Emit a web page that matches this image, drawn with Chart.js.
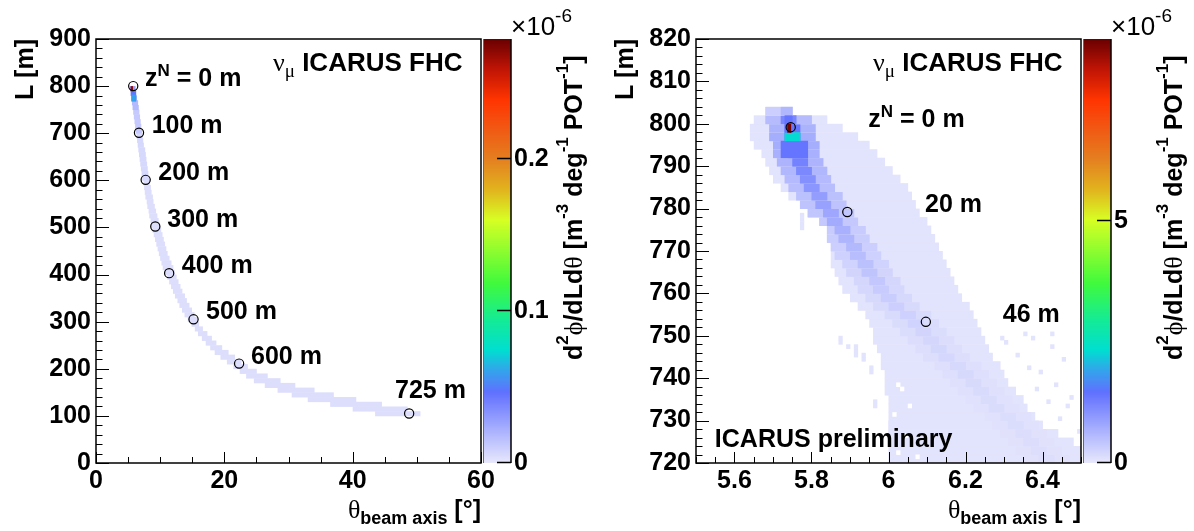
<!DOCTYPE html>
<html lang="en">
<head>
<meta charset="utf-8">
<title>ICARUS FHC - L x theta</title>
<script src="https://cdn.jsdelivr.net/npm/chart.js@4.4.1/dist/chart.umd.min.js"></script>
<style>
    body { margin: 0; background: #ffffff; }
    #pagina { position: relative; width: 1194px; height: 531px; overflow: hidden; background: #ffffff; }
    #pagina canvas { position: absolute; top: 0; }
</style>
</head>
<body>
<div id="pagina">
    <canvas id="mapaGeral" width="500" height="531" style="left:0px"></canvas>
    <canvas id="escalaGeral" width="130" height="531" style="left:470px"></canvas>
    <canvas id="mapaZoom" width="500" height="531" style="left:600px"></canvas>
    <canvas id="escalaZoom" width="124" height="531" style="left:1070px"></canvas>
</div>
<script>
// ---------- painel da esquerda: percurso inteiro ----------
// cada linha do histograma tem 10 m em L (borda de baixo) e a faixa de theta ocupada
const geralLinhaL = [100, 110, 120, 130, 140, 150, 160, 170, 180, 190,
    200, 210, 220, 230, 240, 250, 260, 270, 280, 290,
    300, 310, 320, 330, 340, 350, 360, 370, 380, 390,
    400, 410, 420, 430, 440, 450, 460, 470, 480, 490,
    500, 510, 520, 530, 540, 550, 560, 570, 580, 590,
    600, 610, 620, 630, 640, 650, 660, 670, 680, 690,
    700, 710, 720, 730, 740, 750, 760, 770, 780, 790]
const geralThetaMin = [43.5, 40, 36.5, 33, 30.5, 28.3, 26.3, 24.6, 23.4, 22.4,
    21.4, 20.4, 19.4, 18.5, 17.8, 17.1, 16.5, 15.9, 15.4, 14.9,
    14.3, 13.8, 13.4, 13.0, 12.7, 12.3, 12.0, 11.7, 11.4, 11.1,
    10.7, 10.4, 10.2, 10.0, 9.8, 9.6, 9.4, 9.2, 9.0, 8.8,
    8.6, 8.5, 8.3, 8.2, 8.0, 7.9, 7.7, 7.6, 7.5, 7.4,
    7.2, 7.1, 7.0, 6.9, 6.8, 6.7, 6.6, 6.5, 6.4, 6.3,
    6.2, 6.1, 6.0, 5.9, 5.8, 5.7, 5.6, 5.5, 5.4, 5.3]
const geralThetaMax = [50.5, 48.5, 44.5, 40.5, 37, 34, 31, 28.7, 26.7, 25,
    23.6, 22.6, 21.6, 20.6, 19.6, 18.7, 18.0, 17.3, 16.6, 16.0,
    15.7, 15.3, 14.9, 14.5, 14.1, 13.8, 13.4, 13.1, 12.8, 12.5,
    12.2, 12.0, 11.7, 11.4, 11.1, 10.9, 10.7, 10.5, 10.3, 10.1,
    9.9, 9.7, 9.5, 9.3, 9.1, 8.9, 8.8, 8.6, 8.5, 8.3,
    8.2, 8.1, 8.0, 7.9, 7.8, 7.7, 7.6, 7.4, 7.3, 7.2,
    7.1, 7.0, 6.9, 6.8, 6.7, 6.6, 6.5, 6.3, 6.2, 6.1]
const geralValor = [0.004, 0.004, 0.004, 0.004, 0.004, 0.004, 0.004, 0.004, 0.004, 0.004,
    0.004, 0.004, 0.004, 0.004, 0.004, 0.004, 0.004, 0.004, 0.004, 0.004,
    0.004, 0.004, 0.004, 0.004, 0.004, 0.004, 0.004, 0.004, 0.004, 0.004,
    0.004, 0.004, 0.004, 0.004, 0.004, 0.004, 0.004, 0.004, 0.004, 0.004,
    0.004, 0.004, 0.004, 0.004, 0.004, 0.004, 0.004, 0.004, 0.004, 0.004,
    0.006, 0.006, 0.006, 0.006, 0.006, 0.006, 0.006, 0.006, 0.006, 0.006,
    0.012, 0.012, 0.012, 0.012, 0.012, 0.018, 0.018, 0.03, 0.045, 0.03]
// celulas mais fortes perto de z = 0   [thetaMin, thetaMax, Lmin, Lmax, valor]
const geralPicos = [[5.5, 6.2, 768, 782, 0.06], [5.4, 5.7, 790, 800, 0.27]]
const geralMarcaTheta = [5.8, 6.7, 7.74, 9.24, 11.4, 15.2, 22.3, 48.8]
const geralMarcaL = [800, 701, 601, 502, 403, 305, 211, 105]
const geralRotulos = ['z^N = 0 m', '100 m', '200 m', '300 m', '400 m', '500 m', '600 m', '725 m']
const geralTicksX = [0, 20, 40, 60]
const geralTicksY = [0, 100, 200, 300, 400, 500, 600, 700, 800, 900]
const geralTicksZ = [0, 0.1, 0.2]
const geralZMax = 0.279

// ---------- painel da direita: primeiros metros ----------
// linhas de 2 m em L: faixa ocupada, centro do nucleo e intensidades
const zoomLinhaL = [720, 722, 724, 726, 728, 730, 732, 734, 736, 738,
    740, 742, 744, 746, 748, 750, 752, 754, 756, 758,
    760, 762, 764, 766, 768, 770, 772, 774, 776, 778,
    780, 782, 784, 786, 788, 790, 792, 794, 796, 798, 800, 802]
const zoomEnvMin = [6.00, 6.00, 6.00, 6.00, 6.00, 6.00, 6.00, 6.00, 5.99, 5.99,
    5.99, 5.98, 5.98, 5.97, 5.96, 5.96, 5.95, 5.94, 5.92, 5.90,
    5.88, 5.87, 5.86, 5.85, 5.85, 5.85, 5.84, 5.84, 5.82, 5.79,
    5.77, 5.74, 5.72, 5.70, 5.69, 5.68, 5.67, 5.65, 5.64, 5.64, 5.65, 5.68]
const zoomEnvMax = [6.50, 6.50, 6.48, 6.44, 6.40, 6.38, 6.36, 6.35, 6.33, 6.31,
    6.30, 6.29, 6.27, 6.26, 6.25, 6.24, 6.23, 6.22, 6.21, 6.19,
    6.18, 6.17, 6.16, 6.15, 6.14, 6.13, 6.12, 6.11, 6.10, 6.08,
    6.07, 6.06, 6.05, 6.03, 6.01, 5.99, 5.97, 5.95, 5.92, 5.88, 5.84, 5.75]
const zoomNucleoTheta = [6.41, 6.39, 6.37, 6.35, 6.33, 6.31, 6.28, 6.26, 6.24, 6.22,
    6.20, 6.18, 6.15, 6.13, 6.11, 6.09, 6.07, 6.05, 6.02, 6.00,
    5.98, 5.97, 5.95, 5.94, 5.92, 5.91, 5.89, 5.88, 5.86, 5.85,
    5.83, 5.82, 5.80, 5.79, 5.78, 5.77, 5.76, 5.76, 5.75, 5.75, 5.74, 5.74]
const zoomNucleoValor = [0.12, 0.12, 0.13, 0.13, 0.14, 0.14, 0.15, 0.15, 0.16, 0.17,
    0.18, 0.19, 0.2, 0.21, 0.22, 0.24, 0.26, 0.28, 0.3, 0.33,
    0.36, 0.4, 0.44, 0.48, 0.52, 0.57, 0.62, 0.68, 0.74, 0.8,
    0.86, 0.92, 1.0, 1.08, 1.16, 1.25, 1.35, 1.45, 1.5, 1.4, 1.2, 0.6]
const zoomHaloValor = [0.08, 0.08, 0.08, 0.08, 0.09, 0.09, 0.09, 0.09, 0.1, 0.1,
    0.11, 0.11, 0.12, 0.12, 0.13, 0.14, 0.15, 0.16, 0.17, 0.18,
    0.2, 0.22, 0.24, 0.26, 0.28, 0.3, 0.33, 0.36, 0.39, 0.42,
    0.45, 0.48, 0.52, 0.56, 0.6, 0.64, 0.68, 0.72, 0.72, 0.65, 0.55, 0.3]
const zoomFundo = 0.06
// bins isolados fora da faixa [theta, L] e bins vazios dentro dela
const zoomSoltas = [[5.77, 775], [5.77, 776], [5.77, 777], [5.77, 778],
    [5.87, 748], [5.87, 749], [5.89, 747], [5.91, 745], [5.91, 746], [5.91, 747],
    [5.93, 744], [5.93, 745], [5.95, 741], [5.95, 742], [6.00, 739], [5.96, 733],
    [5.96, 734], [6.00, 727], [6.00, 728], [6.00, 729],
    [6.29, 749], [6.30, 748], [6.33, 745], [6.35, 750], [6.37, 749], [6.36, 742],
    [6.39, 741], [6.42, 747], [6.42, 750], [6.43, 738], [6.45, 744], [6.47, 735],
    [6.46, 733], [6.44, 730], [6.49, 727], [6.38, 737], [6.41, 734]]
const zoomFuros = [[6.02, 738], [6.03, 737], [6.05, 733], [6.01, 731], [6.04, 726], [6.02, 722], [6.07, 721]]
const zoomPicos = [[5.72, 5.79, 792, 796, 1.4], [5.73, 5.77, 796, 798, 2.3],
    [5.73, 5.75, 798, 802, 1.4], [5.737, 5.746, 798, 800, 8.7]]
const zoomMarcaTheta = [5.746, 5.893, 6.097]
const zoomMarcaL = [799.2, 779.2, 753.3]
const zoomRotulos = ['z^N = 0 m', '20 m', '46 m']
const zoomTicksX = [5.6, 5.8, 6, 6.2, 6.4]
const zoomTicksY = [720, 730, 740, 750, 760, 770, 780, 790, 800, 810, 820]
const zoomTicksZ = [0, 5]
const zoomZMax = 8.77

// ---------- estilo ----------
const SANS = '"Liberation Sans", Arial, Helvetica, sans-serif'
const SERIF = '"Liberation Serif", "DejaVu Serif", serif'
const B25 = `bold 25px ${SANS}`
const B26 = `bold 26px ${SANS}`
const B18 = `bold 18px ${SANS}`
const B17 = `bold 17px ${SANS}`
const G26 = `26px ${SERIF}`
const G19 = `19px ${SERIF}`
const NUCLEO = 0.02
const HALO = 0.06

const PALETA = [
    [0.000, 232, 232, 252],
    [0.167, 96, 112, 255],
    [0.219, 50, 165, 235],
    [0.266, 0, 222, 208],
    [0.337, 20, 235, 150],
    [0.424, 64, 250, 60],
    [0.573, 215, 255, 35],
    [0.644, 225, 180, 30],
    [0.715, 228, 128, 32],
    [0.786, 240, 90, 20],
    [0.857, 255, 52, 0],
    [0.930, 190, 20, 5],
    [1.000, 105, 0, 0]
]

function corPaleta(f) {
    f = Math.min(1, Math.max(0, f))
    for (let i = 1; i < PALETA.length; i++) {
        if (f <= PALETA[i][0]) {
            const a = PALETA[i - 1], b = PALETA[i]
            const t = (f - a[0]) / (b[0] - a[0])
            const c = [1, 2, 3].map(k => Math.round(a[k] + (b[k] - a[k]) * t))
            return `rgb(${c[0]},${c[1]},${c[2]})`
        }
    }
    return 'rgb(105,0,0)'
}

function celula(ctx, xs, ys, t0, t1, l0, l1, v, vMax) {
    const x0 = xs.getPixelForValue(t0), x1 = xs.getPixelForValue(t1)
    const y0 = ys.getPixelForValue(l1), y1 = ys.getPixelForValue(l0)
    ctx.fillStyle = v === null ? '#ffffff' : corPaleta(v / vMax)
    ctx.fillRect(x0, y0, x1 - x0 + 0.4, y1 - y0 + 0.4)
}

function desenharGeral(ctx, xs, ys) {
    for (let i = 0; i < geralLinhaL.length; i++) {
        celula(ctx, xs, ys, geralThetaMin[i], geralThetaMax[i], geralLinhaL[i], geralLinhaL[i] + 10, geralValor[i], geralZMax)
    }
    geralPicos.forEach(p => celula(ctx, xs, ys, p[0], p[1], p[2], p[3], p[4], geralZMax))
}

function arred(v) { return Math.round(v * 100) / 100 }

function desenharZoom(ctx, xs, ys) {
    for (let i = 0; i < zoomLinhaL.length; i++) {
        const l0 = zoomLinhaL[i], l1 = l0 + 2
        const lo = zoomEnvMin[i], hi = zoomEnvMax[i], c = zoomNucleoTheta[i]
        celula(ctx, xs, ys, lo, hi, l0, l1, zoomFundo, zoomZMax)
        celula(ctx, xs, ys, Math.max(lo, arred(c - HALO)), Math.min(hi, arred(c + HALO)), l0, l1, zoomHaloValor[i], zoomZMax)
        celula(ctx, xs, ys, Math.max(lo, arred(c - NUCLEO)), Math.min(hi, arred(c + NUCLEO)), l0, l1, zoomNucleoValor[i], zoomZMax)
    }
    zoomSoltas.forEach(p => celula(ctx, xs, ys, p[0], p[0] + 0.01, p[1], p[1] + 1, zoomFundo, zoomZMax))
    zoomFuros.forEach(p => celula(ctx, xs, ys, p[0], p[0] + 0.01, p[1], p[1] + 1, null, zoomZMax))
    zoomPicos.forEach(p => celula(ctx, xs, ys, p[0], p[1], p[2], p[3], p[4], zoomZMax))
}

// texto em pedacos: [texto, fonte, deslocamento vertical]
function escrever(ctx, partes, x, y, alinhar) {
    let largura = 0
    partes.forEach(p => { ctx.font = p[1]; largura += ctx.measureText(p[0]).width })
    let cx = alinhar === 'right' ? x - largura : x
    partes.forEach(p => {
        ctx.font = p[1]
        ctx.fillText(p[0], cx, y + (p[2] || 0))
        cx += ctx.measureText(p[0]).width
    })
}

function partesRotulo(txt) {
    if (txt.indexOf('^') < 0) return [[txt, B25, 0]]
    const [a, b] = txt.split('^')
    return [[a, B25, 0], [b[0], B17, -10], [b.slice(1), B25, 0]]
}

function passos(min, max, passo) {
    const lista = []
    for (let i = 0; min + i * passo <= max + 1e-9; i++) lista.push(Number((min + i * passo).toFixed(6)))
    return lista
}

function pluginQuadro(cfg) {
    return {
        id: 'quadro',
        beforeDatasetsDraw(chart) {
            const { ctx, chartArea: a, scales } = chart
            ctx.save()
            ctx.beginPath()
            ctx.rect(a.left, a.top, a.width, a.height)
            ctx.clip()
            cfg.celulas(ctx, scales.x, scales.y)
            ctx.restore()
        },
        afterDatasetsDraw(chart) {
            const { ctx, chartArea: a, scales: { x, y } } = chart
            ctx.save()
            // tracos para dentro, estilo ROOT
            ctx.strokeStyle = '#000'
            ctx.lineWidth = 1
            ctx.beginPath()
            passos(cfg.yMin, cfg.yMax, cfg.yMenor).forEach(v => {
                const p = Math.round(y.getPixelForValue(v)) + 0.5
                const len = cfg.ticksY.some(t => Math.abs(t - v) < 1e-6) ? 13 : 6.5
                ctx.moveTo(a.left, p)
                ctx.lineTo(a.left + len, p)
            })
            passos(cfg.xMin, cfg.xMax, cfg.xMenor).forEach(v => {
                const p = Math.round(x.getPixelForValue(v)) + 0.5
                const len = cfg.ticksX.some(t => Math.abs(t - v) < 1e-6) ? 11 : 6
                ctx.moveTo(p, a.bottom)
                ctx.lineTo(p, a.bottom - len)
            })
            ctx.stroke()
            ctx.lineWidth = 1.5
            ctx.strokeRect(a.left, a.top, a.width, a.height)

            ctx.fillStyle = '#000'
            ctx.textAlign = 'left'
            ctx.textBaseline = 'alphabetic'
            cfg.rotulos.forEach((txt, i) => {
                escrever(ctx, partesRotulo(txt), x.getPixelForValue(cfg.rotuloPos[i][0]), y.getPixelForValue(cfg.rotuloPos[i][1]))
            })
            escrever(ctx, [['\u03bd', G26, 0], ['\u03bc', G19, 6], [' ICARUS FHC', B26, 0]],
                x.getPixelForValue(cfg.tituloPos[0]), y.getPixelForValue(cfg.tituloPos[1]))
            if (cfg.prelimPos) {
                escrever(ctx, [['ICARUS preliminary', B25, 0]], x.getPixelForValue(cfg.prelimPos[0]), y.getPixelForValue(cfg.prelimPos[1]))
            }

            // titulos dos eixos
            escrever(ctx, [['\u03b8', G26, 0], ['beam axis', B18, 6], [' [\u00b0]', B25, 0]], a.right, a.bottom + 55, 'right')
            ctx.translate(a.left - 63, a.top)
            ctx.rotate(-Math.PI / 2)
            escrever(ctx, [['L [m]', B25, 0]], 0, 0, 'right')
            ctx.restore()
        }
    }
}

function eixo(min, max, ticks, horizontal) {
    return {
        min: min,
        max: max,
        afterBuildTicks: e => { e.ticks = ticks.map(v => ({ value: v })) },
        afterFit: e => {
            if (horizontal) e.height = 68
            else e.width = 96
            e.paddingLeft = 0
            e.paddingRight = 0
            e.paddingTop = 0
            e.paddingBottom = 0
        },
        grid: { display: false, drawTicks: false },
        border: { display: false },
        ticks: {
            padding: horizontal ? 3 : 5,
            color: '#000',
            autoSkip: false,
            maxRotation: 0,
            font: { family: SANS, size: 25, weight: 'bold' },
            callback: v => String(v)
        }
    }
}

function criarMapa(id, cfg) {
    return new Chart(document.getElementById(id), {
        type: 'scatter',
        data: {
            datasets: [{
                data: cfg.marcaTheta.map((t, i) => ({ x: t, y: cfg.marcaL[i] })),
                pointRadius: 4.6,
                pointBorderWidth: 1.2,
                borderWidth: 1.2,
                pointBorderColor: '#000',
                pointBackgroundColor: 'rgba(0,0,0,0)'
            }]
        },
        options: {
            responsive: false,
            animation: false,
            events: [],
            layout: { padding: { left: 0, top: 39, right: 19, bottom: 0 } },
            plugins: { legend: { display: false }, tooltip: { enabled: false } },
            scales: {
                x: eixo(cfg.xMin, cfg.xMax, cfg.ticksX, true),
                y: eixo(cfg.yMin, cfg.yMax, cfg.ticksY, false)
            }
        },
        plugins: [pluginQuadro(cfg)]
    })
}

function criarEscala(id, zMax, ticksZ) {
    return new Chart(document.getElementById(id), {
        type: 'scatter',
        data: { datasets: [] },
        options: {
            responsive: false,
            animation: false,
            events: [],
            layout: { padding: { left: 13, top: 39, right: 0, bottom: 68 } },
            plugins: { legend: { display: false }, tooltip: { enabled: false } },
            scales: {
                x: { display: false, min: 0, max: 1 },
                y: {
                    position: 'right',
                    min: 0,
                    max: zMax,
                    afterBuildTicks: e => { e.ticks = ticksZ.map(v => ({ value: v })) },
                    afterFit: e => { e.width = e.chart.width - 13 - 28; e.paddingTop = 0; e.paddingBottom = 0 },
                    grid: { display: false, drawTicks: false },
                    border: { display: false },
                    ticks: {
                        padding: 3,
                        color: '#000',
                        font: { family: SANS, size: 25, weight: 'bold' },
                        callback: v => String(v)
                    }
                }
            }
        },
        plugins: [{
            id: 'barra',
            afterDraw(chart) {
                const { ctx, chartArea: a, scales: { y } } = chart
                ctx.save()
                // paleta, uma faixa por pixel
                for (let py = Math.floor(a.top); py < Math.ceil(a.bottom); py++) {
                    ctx.fillStyle = corPaleta(y.getValueForPixel(py + 0.5) / zMax)
                    ctx.fillRect(a.left, py, a.width, 1)
                }
                ctx.strokeStyle = '#666'
                ctx.lineWidth = 1
                ctx.beginPath()
                ctx.moveTo(a.left + 0.5, a.top)
                ctx.lineTo(a.left + 0.5, a.bottom)
                ctx.stroke()
                ctx.strokeStyle = '#000'
                ctx.lineWidth = 1.5
                ctx.beginPath()
                ctx.moveTo(a.right, a.top)
                ctx.lineTo(a.right, a.bottom)
                ticksZ.forEach(v => {
                    const p = Math.round(y.getPixelForValue(v)) - 0.5
                    ctx.moveTo(a.right - 14, p)
                    ctx.lineTo(a.right, p)
                })
                ctx.stroke()

                ctx.fillStyle = '#000'
                ctx.textAlign = 'left'
                ctx.textBaseline = 'alphabetic'
                escrever(ctx, [['\u00d710', `26px ${SANS}`, 0], ['-6', `19px ${SANS}`, -13]], a.right, 35)

                ctx.translate(a.right + 71, a.bottom - 103)
                ctx.rotate(-Math.PI / 2)
                escrever(ctx, [['d', B25, 0], ['2', B17, -14], ['\u03d5', G26, 0], ['/dLd', B25, 0], ['\u03b8', G26, 0],
                    [' [m', B25, 0], ['-3', B17, -14], [' deg', B25, 0], ['-1', B17, -14],
                    [' POT', B25, 0], ['-1', B17, -14], [']', B25, 0]], 0, 0)
                ctx.restore()
            }
        }]
    })
}

document.addEventListener('DOMContentLoaded', () => {
    criarMapa('mapaGeral', {
        xMin: 0, xMax: 60, xMenor: 5, ticksX: geralTicksX,
        yMin: 0, yMax: 900, yMenor: 20, ticksY: geralTicksY,
        marcaTheta: geralMarcaTheta, marcaL: geralMarcaL,
        rotulos: geralRotulos,
        rotuloPos: [[7.64, 800], [8.68, 701], [9.71, 601], [11.1, 502], [13.36, 403], [17.14, 305], [24.16, 211], [46.6, 137.7]],
        tituloPos: [27.58, 831.3],
        celulas: desenharGeral
    })
    criarEscala('escalaGeral', geralZMax, geralTicksZ)

    criarMapa('mapaZoom', {
        xMin: 5.5, xMax: 6.5, xMenor: 0.05, ticksX: zoomTicksX,
        yMin: 720, yMax: 820, yMenor: 2, ticksY: zoomTicksY,
        marcaTheta: zoomMarcaTheta, marcaL: zoomMarcaL,
        rotulos: zoomRotulos,
        rotuloPos: [[5.9475, 799.2], [6.095, 779.2], [6.297, 753.3]],
        tituloPos: [5.96, 812.4],
        prelimPos: [5.549, 723.8],
        celulas: desenharZoom
    })
    criarEscala('escalaZoom', zoomZMax, zoomTicksZ)
})
</script>
</body>
</html>
